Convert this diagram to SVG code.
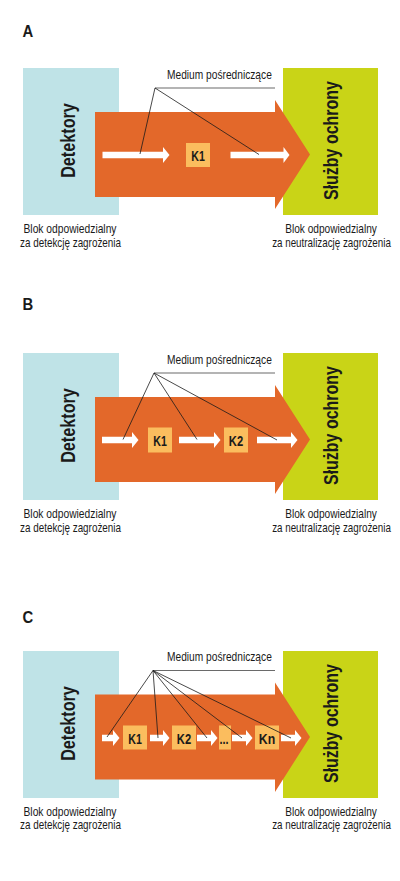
<svg xmlns="http://www.w3.org/2000/svg" width="400" height="881" viewBox="0 0 400 881">
<defs>
<style>
.det{fill:#bfe3e7}
.sl{fill:#c9d417}
.flow{fill:#e3682a}
.box{fill:#fbbd5e}
.wa{fill:#ffffff}
.ln{stroke:#1a1a1a;stroke-width:0.8;fill:none}
.hl{stroke:#6a6a6a;stroke-width:1.1;fill:none}
text{font-family:"Liberation Sans",Arial,sans-serif;fill:#1a1a1a}
.sec{font-size:16.5px;font-weight:bold}
.vt{font-size:20.5px;font-weight:bold;text-anchor:middle}
.kb{font-size:14px;font-weight:bold;text-anchor:middle}
.lab{font-size:13px;text-anchor:middle}
.med{font-size:13px}
</style>
</defs>
<rect x="0" y="0" width="400" height="881" fill="#ffffff"/>

<text class="sec" transform="translate(22.5,37) scale(0.9,1)">A</text>
<text class="sec" transform="translate(22.5,310) scale(0.9,1)">B</text>
<text class="sec" transform="translate(22.5,623) scale(0.9,1)">C</text>

<!-- Section A -->
<g id="sectionA">
  <g id="A-detektory">
    <rect class="det" x="23" y="68" width="96" height="147"/>
    <text class="vt" transform="translate(75,140.5) rotate(-90) scale(0.79,1)">Detektory</text>
  </g>
  <g id="A-sluzby">
    <rect class="sl" x="283" y="68" width="95" height="147"/>
    <text class="vt" transform="translate(337.5,140.5) rotate(-90) scale(0.78,1)">Służby ochrony</text>
  </g>
  <g id="A-medium">
    <polygon class="flow" points="95,112 275,112 275,100 310,154.5 275,209 275,197 95,197"/>
  </g>
  <g id="A-K1">
    <rect class="box" x="186" y="143" width="24" height="24"/>
    <text class="kb" transform="translate(198,160.5) scale(0.76,1)">K1</text>
  </g>
  <g id="A-connectors">
    <path class="wa" d="M102.5 151.8H163V147L169.5 155L163 163V158.2H102.5Z"/>
    <path class="wa" d="M230.5 151.8H283.5V147L289.5 155L283.5 163V158.2H230.5Z"/>
    <path class="hl" d="M155 88H275"/>
    <path class="ln" d="M155 88L140 154M155 88L259 154.5"/>
  </g>
  <g id="A-labels">
    <text class="med" transform="translate(167,79) scale(0.785,1)">Medium pośredniczące</text>
    <text class="lab" transform="translate(70,232.5) scale(0.79,1)">Blok odpowiedzialny</text>
    <text class="lab" transform="translate(70.5,246.5) scale(0.76,1)">za detekcję zagrożenia</text>
    <text class="lab" transform="translate(331,232.5) scale(0.78,1)">Blok odpowiedzialny</text>
    <text class="lab" transform="translate(331.5,246.5) scale(0.755,1)">za neutralizację zagrożenia</text>
  </g>
</g>

<!-- Section B -->
<g id="sectionB" transform="translate(0,285)">
  <g id="B-detektory">
    <rect class="det" x="23" y="68" width="96" height="147"/>
    <text class="vt" transform="translate(75,140.5) rotate(-90) scale(0.79,1)">Detektory</text>
  </g>
  <g id="B-sluzby">
    <rect class="sl" x="283" y="68" width="95" height="147"/>
    <text class="vt" transform="translate(337.5,140.5) rotate(-90) scale(0.78,1)">Służby ochrony</text>
  </g>
  <g id="B-medium">
    <polygon class="flow" points="95,112 275,112 275,100 310,154.5 275,209 275,197 95,197"/>
  </g>
  <g id="B-K1">
    <rect class="box" x="148" y="142.5" width="24" height="25"/>
    <text class="kb" transform="translate(160,160.5) scale(0.76,1)">K1</text>
  </g>
  <g id="B-K2">
    <rect class="box" x="224" y="142.5" width="24" height="25"/>
    <text class="kb" transform="translate(236,160.5) scale(0.8,1)">K2</text>
  </g>
  <g id="B-connectors">
    <path class="wa" d="M102 151.8H132V147L138.5 155L132 163V158.2H102Z"/>
    <path class="wa" d="M179 151.8H214V147L220.5 155L214 163V158.2H179Z"/>
    <path class="wa" d="M257 151.8H291V147L297.5 155L291 163V158.2H257Z"/>
    <path class="hl" d="M154 88H275"/>
    <path class="ln" d="M154 88L123 154.5M154 88L197 154.5M154 88L277 155"/>
  </g>
  <g id="B-labels">
    <text class="med" transform="translate(167,78.5) scale(0.785,1)">Medium pośredniczące</text>
    <text class="lab" transform="translate(70,232.5) scale(0.79,1)">Blok odpowiedzialny</text>
    <text class="lab" transform="translate(70.5,246.5) scale(0.76,1)">za detekcję zagrożenia</text>
    <text class="lab" transform="translate(331,232.5) scale(0.78,1)">Blok odpowiedzialny</text>
    <text class="lab" transform="translate(331.5,246.5) scale(0.755,1)">za neutralizację zagrożenia</text>
  </g>
</g>

<!-- Section C -->
<g id="sectionC" transform="translate(0,583)">
  <g id="C-detektory">
    <rect class="det" x="23" y="68" width="96" height="147"/>
    <text class="vt" transform="translate(75,140.5) rotate(-90) scale(0.79,1)">Detektory</text>
  </g>
  <g id="C-sluzby">
    <rect class="sl" x="283" y="68" width="95" height="147"/>
    <text class="vt" transform="translate(337.5,140.5) rotate(-90) scale(0.78,1)">Służby ochrony</text>
  </g>
  <g id="C-medium">
    <polygon class="flow" points="95,111.5 275,111.5 275,99.5 310,154 275,209 275,196.5 95,196.5"/>
  </g>
  <g id="C-K1">
    <rect class="box" x="123" y="142.5" width="24" height="24"/>
    <text class="kb" transform="translate(135,160.5) scale(0.76,1)">K1</text>
  </g>
  <g id="C-K2">
    <rect class="box" x="172" y="142.5" width="24" height="24"/>
    <text class="kb" transform="translate(184,160.5) scale(0.8,1)">K2</text>
  </g>
  <g id="C-dots">
    <rect class="box" x="219" y="142.5" width="12" height="24"/>
    <text class="kb" transform="translate(224,160.5) scale(0.78,1)">...</text>
  </g>
  <g id="C-Kn">
    <rect class="box" x="255" y="142.5" width="24" height="24"/>
    <text class="kb" transform="translate(267,160.5) scale(0.88,1)">Kn</text>
  </g>
  <g id="C-connectors">
    <path class="wa" d="M102 151.8H113V147L119.5 155L113 163V158.2H102Z"/>
    <path class="wa" d="M150 151.8H163V147L169.5 155L163 163V158.2H150Z"/>
    <path class="wa" d="M197 151.8H211V147L217.5 155L211 163V158.2H197Z"/>
    <path class="wa" d="M232 151.8H246V147L252.5 155L246 163V158.2H232Z"/>
    <path class="wa" d="M281 151.8H295V147L301.5 155L295 163V158.2H281Z"/>
    <path class="hl" d="M153 87.5H275"/>
    <path class="ln" d="M153 87.5L107 154M153 87.5L158 155M153 87.5L207 155M153 87.5L242 155M153 87.5L291 155"/>
  </g>
  <g id="C-labels">
    <text class="med" transform="translate(167,78) scale(0.785,1)">Medium pośredniczące</text>
    <text class="lab" transform="translate(70,232.5) scale(0.79,1)">Blok odpowiedzialny</text>
    <text class="lab" transform="translate(70.5,246) scale(0.76,1)">za detekcję zagrożenia</text>
    <text class="lab" transform="translate(331,232.5) scale(0.78,1)">Blok odpowiedzialny</text>
    <text class="lab" transform="translate(331.5,246) scale(0.755,1)">za neutralizację zagrożenia</text>
  </g>
</g>
</svg>
